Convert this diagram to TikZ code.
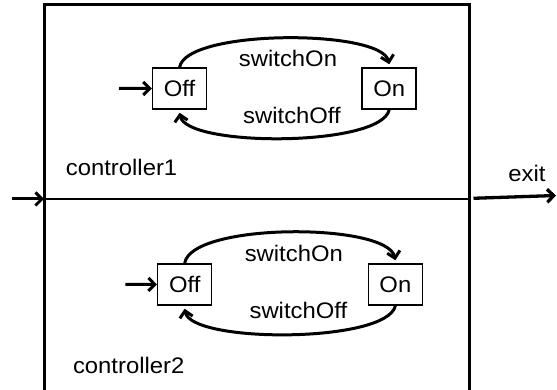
\documentclass[tikz,border=0pt]{standalone}
\usepackage{fontspec}
\setmainfont[FakeStretch=1.06]{Liberation Sans}
\usetikzlibrary{arrows.meta}
\begin{document}
\begin{tikzpicture}[x=1pt,y=1pt,
  font=\fontsize{22.5}{27}\selectfont,
  state/.style={draw, line width=1.5pt, minimum width=54pt, minimum height=41pt, inner sep=0pt},
  lbl/.style={inner sep=0pt, anchor=base},
  region/.style={inner sep=0pt, anchor=base west},
  barb/.style={-{Straight Barb[length=6.5pt,width=13pt]}},
  trans/.style={line width=3pt, barb},
  initarrow/.style={line width=3pt, barb}]
\useasboundingbox (0,0) rectangle (557,390);
\clip (0,0) rectangle (557,390);

% outer frame, open at the bottom
\draw[line width=3pt] (44,-5) -- (44,385) -- (469.5,385) -- (469.5,-5);

% divider between the two regions
\coordinate (divL) at (44,191);
\coordinate (divR) at (469.5,191);
\draw[line width=1.5pt] (divL) -- (divR);

% entry and exit
\coordinate (entry) at (12.4,191);
\draw[initarrow] (entry) -- (divL);
\coordinate (exitS) at (473.5,191.7);
\coordinate (exitE) at (556,194.5);
\draw[line width=3.3pt, barb] (exitS) -- (exitE);
\node[lbl] (exitlbl) at (527,208.3) {exit};

% region 1
\node[state] (off1) at (179.6,301.5) {Off};
\node[state] (on1) at (389.2,301.5) {On};
\coordinate (init1) at (119,301.7);
\draw[initarrow] (init1) -- (off1.west);
\draw[trans] (off1.north) .. controls (186,361) and (381,361) .. ([yshift=3pt]on1.north);
\draw[trans] (on1.south) .. controls (381,242.7) and (186,242.7) .. ([yshift=-3pt]off1.south);
\node[lbl] (on1lbl) at (288,323.3) {switchOn};
\node[lbl] (off1lbl) at (292,266.7) {switchOff};
\node[region] (c1) at (65.7,214.3) {controller1};

% region 2
\node[state] (off2) at (184.7,105.5) {Off};
\node[state] (on2) at (395.4,105.5) {On};
\coordinate (init2) at (125.4,105.7);
\draw[initarrow] (init2) -- (off2.west);
\draw[trans] (off2.north) .. controls (191,167.6) and (387,167.6) .. ([yshift=3pt]on2.north);
\draw[trans] (on2.south) .. controls (387,46.6) and (191,46.6) .. ([yshift=-3pt]off2.south);
\node[lbl] (on2lbl) at (293.8,128.3) {switchOn};
\node[lbl] (off2lbl) at (298.4,71.7) {switchOff};
\node[region] (c2) at (72.8,16.7) {controller2};
\end{tikzpicture}
\end{document}
